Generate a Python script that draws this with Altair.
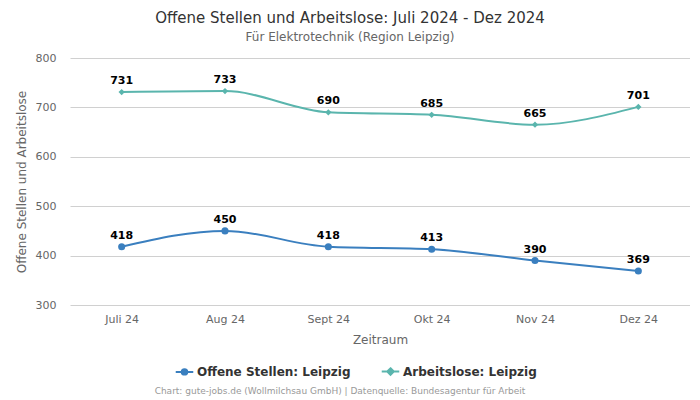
import altair as alt
import pandas as pd

months = ["Juli 24", "Aug 24", "Sept 24", "Okt 24", "Nov 24", "Dez 24"]
offene = [418, 450, 418, 413, 390, 369]
arbeitslose = [731, 733, 690, 685, 665, 701]
series_names = ["Offene Stellen: Leipzig", "Arbeitslose: Leipzig"]
colors = ["#3a7fbf", "#5ab5ad"]

rows = []
for m, v in zip(months, offene):
    rows.append({"Monat": m, "Wert": v, "Serie": series_names[0]})
for m, v in zip(months, arbeitslose):
    rows.append({"Monat": m, "Wert": v, "Serie": series_names[1]})
df = pd.DataFrame(rows)

FONT = "DejaVu Sans"

x = alt.X("Monat:N", sort=months, scale=alt.Scale(type="point", padding=0.5),
          axis=alt.Axis(title="Zeitraum", labelAngle=0, labelColor="#666", labelFontSize=11,
                        titleColor="#666", titleFontSize=12, titleFontWeight="normal",
                        ticks=False, domain=False, grid=False, labelPadding=8, titlePadding=10))
y = alt.Y("Wert:Q", scale=alt.Scale(domain=[300, 800], nice=False, zero=False),
          axis=alt.Axis(title="Offene Stellen und Arbeitslose", values=[300, 400, 500, 600, 700, 800],
                        labelColor="#666", labelFontSize=11, titleColor="#666", titleFontSize=12,
                        titleFontWeight="normal", ticks=False, domain=False, gridColor="#d0d0d0",
                        labelPadding=14, titlePadding=7))

circle_path = "M-1.6,0L1.6,0M-0.5,0A0.5,0.5 0 1,0 0.5,0A0.5,0.5 0 1,0 -0.5,0"
diamond_path = "M-1.6,0L1.6,0M0,-0.6L0.6,0L0,0.6L-0.6,0Z"


def make_legend():
    return alt.Legend(title=None, orient="none", direction="horizontal",
                      legendX=108, legendY=307, labelFontSize=12,
                      labelFontWeight="bold", labelColor="#333", labelFont=FONT,
                      columnPadding=26, symbolSize=120, symbolStrokeWidth=2,
                      symbolOpacity=1, labelOffset=6)


cscale = alt.Scale(domain=series_names, range=colors)
legend_color = alt.Color("Serie:N", scale=cscale, legend=make_legend())
legend_shape = alt.Shape("Serie:N", scale=alt.Scale(domain=series_names, range=[circle_path, diamond_path]),
                         legend=make_legend())
pcolor = alt.Color("Serie:N", scale=cscale, legend=None)

base = alt.Chart(df)

# legend carrier layer first, so its legend definition wins when layers merge
legend_layer = base.transform_filter("false").mark_point(filled=False, strokeWidth=2, opacity=1).encode(
    x=x, y=y, color=legend_color, shape=legend_shape)
lines = base.mark_line(interpolate="monotone", strokeWidth=2).encode(x=x, y=y, color=pcolor)
points_o = base.transform_filter(alt.datum.Serie == series_names[0]).mark_point(
    shape="circle", filled=True, size=50, opacity=1).encode(x=x, y=y, color=pcolor)
points_a = base.transform_filter(alt.datum.Serie == series_names[1]).mark_point(
    shape="diamond", filled=True, size=40, opacity=1).encode(x=x, y=y, color=pcolor)
labels = base.mark_text(dy=-11, fontWeight="bold", fontSize=11, color="#000", font=FONT).encode(
    x=x, y=y, text="Wert:Q")

footer = alt.Chart(pd.DataFrame({"t": ["Chart: gute-jobs.de (Wollmilchsau GmbH) | Datenquelle: Bundesagentur für Arbeit"]})).mark_text(
    fontSize=9, color="#999", font=FONT).encode(x=alt.value(270), y=alt.value(333), text="t:N")

chart = alt.layer(legend_layer, lines, points_o, points_a, labels, footer).properties(
    width=620, height=247,
    title=alt.TitleParams("Offene Stellen und Arbeitslose: Juli 2024 - Dez 2024",
                          subtitle="Für Elektrotechnik (Region Leipzig)",
                          anchor="middle", dx=-30, fontSize=15, fontWeight="normal", color="#333",
                          subtitleFontSize=12, subtitleColor="#666", font=FONT, subtitleFont=FONT,
                          offset=9, subtitlePadding=6),
    autosize=alt.AutoSizeParams(type="none"),
    padding={"left": 62, "top": 50, "right": 0, "bottom": 92},
).configure(font=FONT).configure_view(stroke=None)

chart.save("out.html", embed_options={"renderer": "svg", "actions": False})
